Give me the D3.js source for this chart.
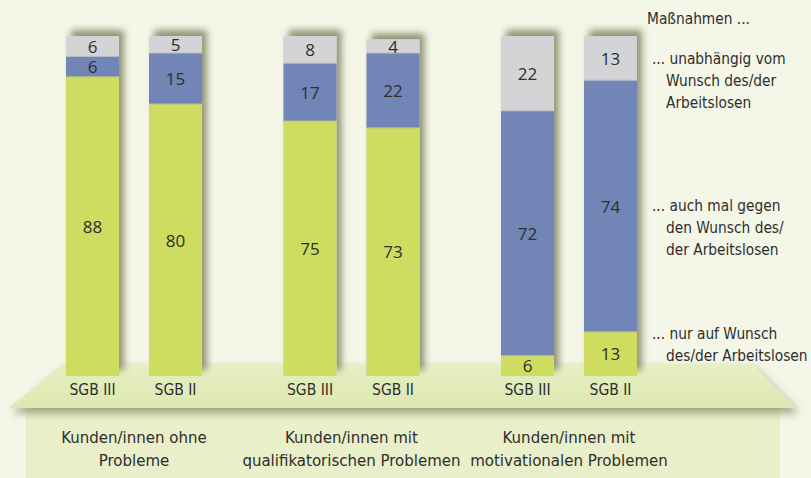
<!DOCTYPE html>
<html><head><meta charset="utf-8">
<script src="https://cdn.jsdelivr.net/npm/d3@7"></script>
<style>
html,body{margin:0;padding:0;background:#f4f6e7;}
svg{display:block;}
.cond{font-family:"Liberation Sans Narrow","DejaVu Sans Condensed","Roboto Condensed",sans-serif;font-stretch:condensed;}
</style></head>
<body>
<svg id="chart" width="811" height="478"></svg>
<script>
const groups = ["Kunden/innen ohne|Probleme", "Kunden/innen mit|qualifikatorischen Problemen", "Kunden/innen mit|motivationalen Problemen"];
const laws = ["SGB III", "SGB II"];
// values: [nur auf Wunsch, auch mal gegen den Wunsch, unabhängig vom Wunsch]
const nurAufWunsch   = [88, 80, 75, 73, 6, 13];
const auchMalGegen   = [6, 15, 17, 22, 72, 74];
const unabhaengig    = [6, 5, 8, 4, 22, 13];
const seriesNames = ["nur", "gegen", "unabh"];
const colors = ["#cedd5f", "#7185b6", "#d3d4d6"];
const legendTitle = "Maßnahmen ...";
const legendLabels = [
  ["... nur auf Wunsch", "des/der Arbeitslosen"],
  ["... auch mal gegen", "den Wunsch des/", "der Arbeitslosen"],
  ["... unabhängig vom", "Wunsch des/der", "Arbeitslosen"]
];

const svg = d3.select("#chart");
const W = 811, H = 478;
svg.append("rect").attr("width", W).attr("height", H).attr("fill", "#f4f6e7");

const defs = svg.append("defs");
const fb = defs.append("filter").attr("id", "barShadow").attr("x", "-30%").attr("y", "-10%").attr("width", "160%").attr("height", "120%");
fb.append("feDropShadow").attr("dx", 5).attr("dy", -6).attr("stdDeviation", 3.5)
  .attr("flood-color", "#6f7350").attr("flood-opacity", 0.75);
const fp = defs.append("filter").attr("id", "platShadow").attr("x", "-10%").attr("y", "-20%").attr("width", "120%").attr("height", "160%");
fp.append("feDropShadow").attr("dx", 3).attr("dy", 5).attr("stdDeviation", 4)
  .attr("flood-color", "#8a8f68").attr("flood-opacity", 0.8);
const gradTop = defs.append("linearGradient").attr("id", "platGrad").attr("x1", 0).attr("y1", 0).attr("x2", 0).attr("y2", 1);
gradTop.append("stop").attr("offset", 0).attr("stop-color", "#e7efc6");
gradTop.append("stop").attr("offset", 1).attr("stop-color", "#dde8b0");

// platform (lower box + trapezoid)
svg.append("rect").attr("x", 26).attr("y", 406).attr("width", 754).attr("height", 80)
  .attr("fill", "#e8efc9");
svg.append("path").attr("d", "M62,364 L752,364 L796,408 L9,408 Z")
  .attr("fill", "url(#platGrad)").attr("filter", "url(#platShadow)");

// scales
const x0 = d3.scaleBand().domain(d3.range(groups.length)).range([25.25, 677.75]);
const x1 = d3.scalePoint().domain(laws).range([-41.5, 41.5]);
const barW = 53;
const y = d3.scaleLinear().domain([0, 100]).range([376, 36]);

const data = [];
groups.forEach((g, gi) => laws.forEach((l, li) => {
  const i = gi * laws.length + li;
  data.push({ gi, law: l, vals: [nurAufWunsch[i], auchMalGegen[i], unabhaengig[i]] });
}));

const bars = svg.append("g").selectAll("g").data(data).join("g")
  .attr("transform", d => `translate(${x0(d.gi) + x0.bandwidth() / 2 + x1(d.law) - barW / 2},0)`);

bars.append("rect").attr("x", 0).attr("width", barW)
  .attr("y", d => y(d3.sum(d.vals))).attr("height", d => y(0) - y(d3.sum(d.vals)))
  .attr("fill", "#d3d4d6").attr("filter", "url(#barShadow)");

bars.each(function (d) {
  const g = d3.select(this);
  let cum = 0;
  const segs = d.vals.map((v, k) => { const s = { v, k, y0: cum, y1: cum + v }; cum += v; return s; });
  g.selectAll("rect.seg").data(segs).join("rect").attr("class", "seg")
    .attr("x", 0).attr("width", barW)
    .attr("y", s => y(s.y1)).attr("height", s => y(s.y0) - y(s.y1))
    .attr("fill", s => colors[s.k]);
  g.selectAll("line.sep").data(segs.slice(1)).join("line").attr("class", "sep")
    .attr("x1", 0).attr("x2", barW).attr("y1", s => y(s.y0)).attr("y2", s => y(s.y0))
    .attr("stroke", s => s.k === 2 ? "#b9bcc6" : "#b3bd78").attr("stroke-width", 1);
  g.selectAll("text.val").data(segs).join("text").attr("class", "val")
    .attr("x", barW / 2).attr("y", s => (y(s.y0) + y(s.y1)) / 2)
    .attr("text-anchor", "middle").attr("dominant-baseline", "central")
    .attr("font-family", "'Open Sans','Noto Sans',sans-serif").attr("font-size", 17)
    .attr("fill", "#2e2e2e").text(s => s.v);
});

// law labels
bars.append("text").attr("class", "cond").attr("x", barW / 2).attr("y", 395)
  .attr("text-anchor", "middle").attr("font-size", 15.5).attr("fill", "#2e2e2e")
  .text(d => d.law);

// group labels
svg.append("g").selectAll("text").data(groups).join("text").attr("class", "cond")
  .attr("x", (d, i) => x0(i) + x0.bandwidth() / 2).attr("y", 443)
  .attr("text-anchor", "middle").attr("font-size", 16.7).attr("fill", "#2e2e2e")
  .each(function (d) {
    d.split("|").forEach((line, j) => d3.select(this).append("tspan")
      .attr("x", d3.select(this).attr("x")).attr("dy", j === 0 ? 0 : 23).text(line));
  });

// legend
const leg = svg.append("g").attr("class", "cond").attr("font-size", 15.3).attr("fill", "#2e2e2e");
leg.append("text").attr("x", 647).attr("y", 24).text(legendTitle);
const legY = [339, 211, 64];
legendLabels.forEach((lines, k) => {
  lines.forEach((line, j) => {
    leg.append("text").attr("x", j === 0 ? 652 : 666).attr("y", legY[k] + j * 22).text(line);
  });
});
</script>
</body></html>
